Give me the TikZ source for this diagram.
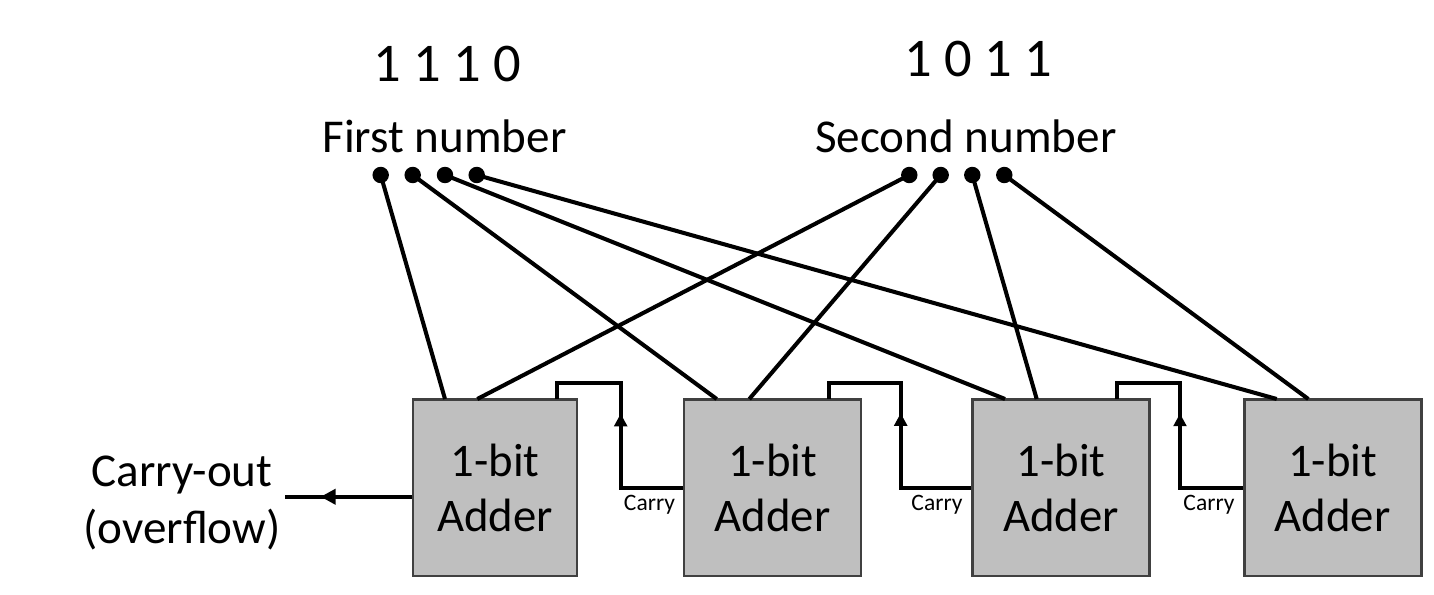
\documentclass[tikz,border=0pt]{standalone}
\usepackage{fontspec}
\setmainfont{Carlito}
\usetikzlibrary{calc,positioning,arrows.meta,decorations.markings}

\tikzset{
  adder/.style={draw=black!75, line width=0.8pt, fill=black!25, minimum height=1.765cm,
    align=center, inner sep=0pt, font=\fontsize{13.3}{15.8}\selectfont},
  wire/.style={line width=1.15pt},
  mittelpfeil/.style 2 args={postaction={decorate}, decoration={markings,
    mark=at position #1 with {\arrow{Triangle[length=#2,width=#2]}}}},
  gross/.style={font=\fontsize{13.4}{16}\selectfont},
  ziffern/.style={font=\fontsize{15.5}{18}\selectfont},
  klein/.style={font=\fontsize{6.7}{8}\selectfont, inner sep=0pt}
}

\begin{document}
\begin{tikzpicture}
            \useasboundingbox (0,0) rectangle (14.34,5.94);

            % Zahlen und Beschriftungen oben
            \node[ziffern] (zahl1) at (4.47,5.30) {1 1 1 0};
            \node[ziffern] (zahl2) at (9.78,5.35) {1 0 1 1};
            \node[gross] (erste) at (4.445,4.58) {First number};
            \node[gross] (zweite) at (9.66,4.58) {Second number};

            % Variablen für die Bits der ersten Zahl
            \coordinate (f0) at (3.807,4.19);
            \coordinate (f1) at (4.127,4.19);
            \coordinate (f2) at (4.450,4.19);
            \coordinate (f3) at (4.767,4.19);

            % Variablen für die Bits der zweiten Zahl
            \coordinate (s0) at (9.093,4.19);
            \coordinate (s1) at (9.407,4.19);
            \coordinate (s2) at (9.723,4.19);
            \coordinate (s3) at (10.043,4.19);

            % Die vier Addierer
            \node[adder, minimum width=1.64cm] (add1) at (4.95,1.0625) {1-bit\\Adder};
            \node[adder, minimum width=1.77cm] (add2) at (7.725,1.0625) {1-bit\\Adder};
            \node[adder, minimum width=1.77cm] (add3) at (10.61,1.0625) {1-bit\\Adder};
            \node[adder, minimum width=1.77cm] (add4) at (13.327,1.0625) {1-bit\\Adder};

            % Eingänge oben an den Addierern
            \coordinate (add1a) at (4.45,1.95);
            \coordinate (add1b) at (4.773,1.95);
            \coordinate (add2a) at (7.167,1.95);
            \coordinate (add2b) at (7.493,1.95);
            \coordinate (add3a) at (10.05,1.95);
            \coordinate (add3b) at (10.367,1.95);
            \coordinate (add4a) at (12.767,1.95);
            \coordinate (add4b) at (13.083,1.95);

            \draw[wire] (f0) -- (add1a);
            \draw[wire] (f1) -- (add2a);
            \draw[wire] (f2) -- (add3a);
            \draw[wire] (f3) -- (add4a);

            \draw[wire] (s0) -- (add1b);
            \draw[wire] (s1) -- (add2b);
            \draw[wire] (s2) -- (add3b);
            \draw[wire] (s3) -- (add4b);

            \filldraw (f0) circle (0.075);
            \filldraw (f1) circle (0.075);
            \filldraw (f2) circle (0.075);
            \filldraw (f3) circle (0.075);

            \filldraw (s0) circle (0.075);
            \filldraw (s1) circle (0.075);
            \filldraw (s2) circle (0.075);
            \filldraw (s3) circle (0.075);

            % Carry-Leitungen
            \coordinate (k1) at (6.207,2.11);
            \coordinate (t1) at (5.567,1.95);
            \coordinate (k2) at (9.007,2.11);
            \coordinate (t2) at (8.29,1.95);
            \coordinate (k3) at (11.80,2.11);
            \coordinate (t3) at (11.17,1.95);

            \draw[wire, mittelpfeil={1.36cm}{3.6pt}] (add2.west) -| (k1) -| (t1);
            \draw[wire, mittelpfeil={1.45cm}{3.6pt}] (add3.west) -| (k2) -| (t2);
            \draw[wire, mittelpfeil={1.37cm}{3.6pt}] (add4.west) -| (k3) -| (t3);

            \node[klein] (carry1) at (6.495,0.89) {Carry};
            \node[klein] (carry2) at (9.37,0.89) {Carry};
            \node[klein] (carry3) at (12.09,0.89) {Carry};

            % Überlauf links
            \node[gross, align=center, inner xsep=1pt] (cout) at (1.82,0.91) {Carry-out\\(overflow)};
            \coordinate (co) at ([yshift=-0.09cm]add1.west);
            \draw[wire, mittelpfeil={0.91cm}{4.3pt}] (co) -- (co -| cout.east);
        \end{tikzpicture}
\end{document}
